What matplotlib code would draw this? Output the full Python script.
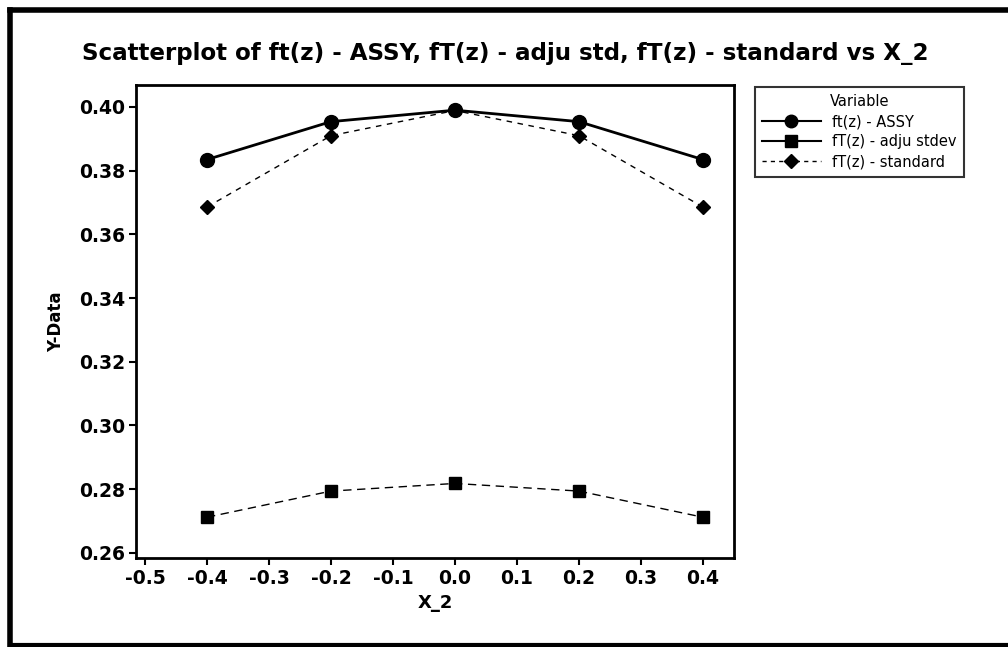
import matplotlib
matplotlib.use("Agg")
import matplotlib.pyplot as plt
from matplotlib.lines import Line2D

x_vals = [-0.4, -0.2, 0.0, 0.2, 0.4]
assy = [0.3835, 0.3954, 0.3990, 0.3954, 0.3835]
adju = [0.2712, 0.2794, 0.2818, 0.2794, 0.2712]
standard = [0.3686, 0.3910, 0.3989, 0.3910, 0.3686]
series_names = ["ft(z) - ASSY", "fT(z) - adju stdev", "fT(z) - standard"]
xticks = [-0.5, -0.4, -0.3, -0.2, -0.1, 0.0, 0.1, 0.2, 0.3, 0.4]
yticks = [0.26, 0.28, 0.30, 0.32, 0.34, 0.36, 0.38, 0.40]
title = "Scatterplot of ft(z) - ASSY, fT(z) - adju std, fT(z) - standard vs X_2"

plt.rcParams['font.family'] = ['DejaVu Sans']
fig = plt.figure(figsize=(10.08, 6.47), dpi=100)
ax = fig.add_axes([0.135, 0.1376, 0.593, 0.731])

ax.plot(x_vals, assy, color='black', lw=2.0, ls='-', marker='o', ms=10)
ax.plot(x_vals, adju, color='black', lw=1.0, ls=(0, (6, 4)), marker='s', ms=9)
ax.plot(x_vals, standard, color='black', lw=1.0, ls=(0, (4, 4)), marker='D', ms=7)

ax.set_xlim(-0.5145, 0.45)
ax.set_ylim(0.2584, 0.4069)
ax.set_xticks(xticks)
ax.set_xticklabels([f"{v:.1f}" for v in xticks])
ax.set_yticks(yticks)
ax.set_yticklabels([f"{v:.2f}" for v in yticks])
ax.tick_params(direction='out', length=5, width=1.5, labelsize=13.5, pad=3)
for lbl in ax.get_xticklabels() + ax.get_yticklabels():
    lbl.set_fontweight('bold')
for s in ax.spines.values():
    s.set_linewidth(2)

ax.set_xlabel("X_2", fontsize=13, fontweight='bold', labelpad=4)
ax.set_ylabel("Y-Data", fontsize=12, fontweight='bold', labelpad=10)

fig.text(0.081, 0.918, title, fontsize=16.6, fontweight='bold', ha='left', va='center')

handles = [
    Line2D([], [], color='black', lw=1.5, ls='-', marker='o', ms=9),
    Line2D([], [], color='black', lw=1.5, ls='-', marker='s', ms=8),
    Line2D([], [], color='black', lw=1.0, ls=(0, (3, 3)), marker='D', ms=7),
]
leg = fig.legend(handles, series_names, title="Variable", loc='upper left',
                 bbox_to_anchor=(0.749, 0.866), borderaxespad=0,
                 frameon=True, fancybox=False,
                 edgecolor='black', fontsize=10.5, title_fontsize=10.5,
                 handlelength=4.0, borderpad=0.5, labelspacing=0.35)
leg.get_frame().set_linewidth(1.5)

# outer border of the picture
fig.add_artist(Line2D([0.01, 0.01], [0.003, 0.985], transform=fig.transFigure, color='black', lw=4))
fig.add_artist(Line2D([0.01, 1.0], [0.985, 0.985], transform=fig.transFigure, color='black', lw=4))
fig.add_artist(Line2D([0.01, 1.0], [0.003, 0.003], transform=fig.transFigure, color='black', lw=3))

fig.savefig("out.png", dpi=100)
